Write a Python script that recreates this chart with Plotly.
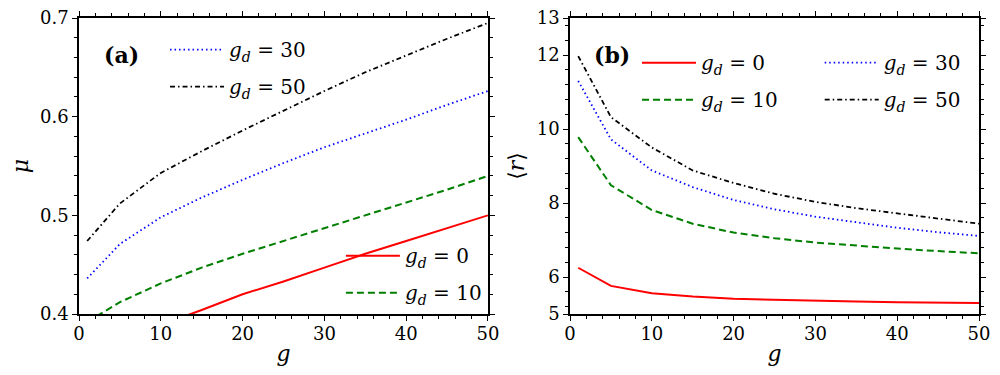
import plotly.graph_objects as go

g = [1, 5, 10, 15, 20, 25, 30, 35, 40, 45, 50]

# panel (a): mu vs g
mu_gd0 = [0.362, 0.373, 0.389, 0.404, 0.420, 0.433, 0.447, 0.461, 0.474, 0.487, 0.500]
mu_gd10 = [0.392, 0.412, 0.431, 0.447, 0.461, 0.474, 0.487, 0.500, 0.513, 0.526, 0.540]
mu_gd30 = [0.436, 0.471, 0.498, 0.518, 0.536, 0.553, 0.569, 0.583, 0.597, 0.612, 0.626]
mu_gd50 = [0.474, 0.512, 0.543, 0.565, 0.586, 0.606, 0.626, 0.645, 0.662, 0.679, 0.695]

# panel (b): <r> vs g
r_gd0 = [6.25, 5.76, 5.56, 5.47, 5.41, 5.38, 5.35, 5.34, 5.32, 5.31, 5.30]
r_gd10 = [9.78, 8.48, 7.81, 7.44, 7.20, 7.05, 6.93, 6.84, 6.77, 6.70, 6.64]
r_gd30 = [11.30, 9.72, 8.88, 8.43, 8.08, 7.83, 7.63, 7.47, 7.33, 7.21, 7.11]
r_gd50 = [11.97, 10.32, 9.50, 8.88, 8.54, 8.25, 8.03, 7.86, 7.72, 7.57, 7.44]

labels = ["<i>g</i><sub><i>d</i></sub> = 0", "<i>g</i><sub><i>d</i></sub> = 10",
          "<i>g</i><sub><i>d</i></sub> = 30", "<i>g</i><sub><i>d</i></sub> = 50"]
yticks_b = [5, 6, 8, 10, 12, 13]

FONT = "DejaVu Serif"
styles = [
    dict(color="#ff0000", width=2, dash="solid"),
    dict(color="#007f00", width=2, dash="7px,4px"),
    dict(color="#0000ff", width=1.8, dash="1.5px,3px"),
    dict(color="#000000", width=1.8, dash="5px,3px,1.5px,3px"),
]

fig = go.Figure()
left_data = [mu_gd0, mu_gd10, mu_gd30, mu_gd50]
left_leg = ["legend2", "legend2", "legend", "legend"]
for i, ys in enumerate(left_data):
    fig.add_trace(go.Scatter(x=g, y=ys, mode="lines", line=styles[i], name=labels[i],
                             xaxis="x", yaxis="y", legend=left_leg[i],
                             legendgroup=f"a{i}"))
right_data = [r_gd0, r_gd10, r_gd30, r_gd50]
right_leg = ["legend3", "legend3", "legend4", "legend4"]
for i, ys in enumerate(right_data):
    fig.add_trace(go.Scatter(x=g, y=ys, mode="lines", line=styles[i], name=labels[i],
                             xaxis="x2", yaxis="y2", legend=right_leg[i],
                             legendgroup=f"b{i}"))

axis_common = dict(showline=True, linecolor="black", linewidth=1.5, mirror="ticks",
                   ticks="outside", ticklen=5, tickwidth=1.2, tickcolor="black",
                   showgrid=False, zeroline=False, ticklabeloverflow="allow",
                   tickfont=dict(family=FONT, size=18, color="black"),
                   automargin=False)
minor_common = dict(ticks="outside", ticklen=3, tickwidth=1, tickcolor="black", showgrid=False)
title_font = dict(family=FONT, size=22, color="black")

fig.update_layout(
    font=dict(family=FONT, color="black"),
    xaxis=dict(domain=[0, 0.4544], range=[0, 50], dtick=10, tick0=0, ticklabelstandoff=-2,
               minor=dict(dtick=2, tick0=0, **minor_common),
               title=dict(text="<i>g</i>", font=title_font, standoff=2),
               **axis_common),
    yaxis=dict(domain=[0, 1], range=[0.4, 0.7], dtick=0.1, tick0=0.4, tickformat=".1f",
               minor=dict(dtick=0.02, tick0=0.4, **minor_common),
               title=dict(text="<i>μ</i>", font=title_font, standoff=14),
               **axis_common),
    xaxis2=dict(domain=[0.5456, 1], range=[0, 50], dtick=10, tick0=0, anchor="y2",
                ticklabelstandoff=-2,
                minor=dict(dtick=2, tick0=0, **minor_common),
                title=dict(text="<i>g</i>", font=title_font, standoff=2),
                **axis_common),
    yaxis2=dict(domain=[0, 1], range=[5, 13], tickmode="array", tickvals=yticks_b, anchor="x2",
                minor=dict(dtick=0.4, tick0=0, **minor_common),
                title=dict(text="⟨<i>r</i>⟩", font=title_font, standoff=6),
                **axis_common),
)

leg_common = dict(bgcolor="rgba(0,0,0,0)", borderwidth=0, traceorder="grouped",
                  tracegroupgap=8, itemwidth=54, xanchor="left", yanchor="top",
                  font=dict(family=FONT, size=20, color="black"))
fig.update_layout(
    legend=dict(x=0.0956, y=0.959, **leg_common),
    legend2=dict(x=0.291, y=0.263, **leg_common),
    legend3=dict(x=0.62, y=0.915, **leg_common),
    legend4=dict(x=0.823, y=0.915, **leg_common),
)

fig.add_annotation(text="<b>(a)</b>", xref="x domain", yref="y domain", x=0.103, y=0.875,
                   xanchor="center", yanchor="middle",
                   showarrow=False, font=dict(family=FONT, size=22, color="black"))
fig.add_annotation(text="<b>(b)</b>", xref="x2 domain", yref="y2 domain", x=0.103, y=0.875,
                   xanchor="center", yanchor="middle",
                   showarrow=False, font=dict(family=FONT, size=22, color="black"))

fig.update_layout(width=992, height=367, margin=dict(l=71, r=21, t=10, b=61),
                  paper_bgcolor="white", plot_bgcolor="white", showlegend=True)

fig.write_html("out.html")
